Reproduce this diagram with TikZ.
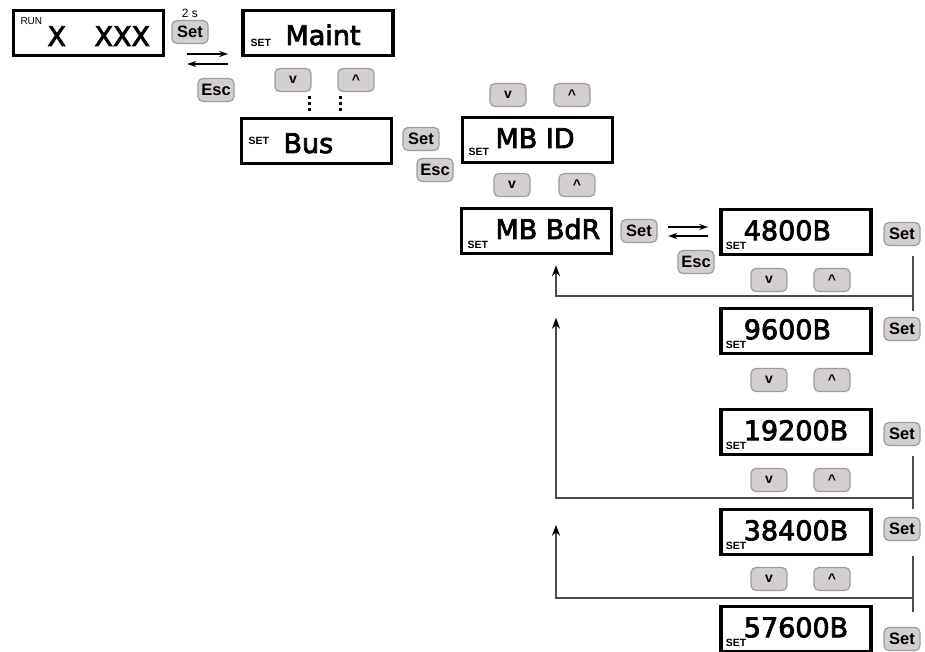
\documentclass[tikz,border=0pt]{standalone}
\usepackage{fontspec}
\setmainfont{Liberation Sans}
\newfontfamily\lcdfont[FakeBold=3]{DejaVu Sans}
\usepackage{tikz}
\usetikzlibrary{arrows.meta,positioning,calc}
\definecolor{menu@key}{RGB}{211,207,207}
\definecolor{menu@keyedge}{RGB}{160,155,155}
\definecolor{menu@line}{RGB}{75,75,75}
\tikzset{
  menu/.style={
    x=1pt, y=-1pt,
    >={Stealth[length=9pt,width=6pt]},
    line width=1pt
  },
  lcd/.style={                     % display window
    draw=black, line width=3.4pt,
    minimum width=150pt, minimum height=45pt,
    inner sep=0pt
  },
  lcdtext/.style={font=\lcdfont\fontsize{27}{27}\selectfont, inner sep=0pt, anchor=base west},
  tag/.style={font=\bfseries\fontsize{10.5}{10.5}\selectfont, inner sep=0pt, anchor=base west},
  key/.style={                     % push button
    draw=menu@keyedge, fill=menu@key, line width=1.2pt,
    rounded corners=5pt,
    minimum width=36pt, minimum height=23pt,
    inner sep=0pt,
    font=\bfseries\fontsize{16.5}{16.5}\selectfont
  },
  navkey/.style={key, font=\bfseries\fontsize{14}{14}\selectfont},
  swap/.style={->, line width=1.4pt},
  back/.style={draw=menu@line, line width=1.6pt},
  backarrow/.style={back, -{Stealth[length=11pt,width=8pt,color=black]}},
  dotcol/.style={line width=3pt, dash pattern=on 3pt off 3pt}
}
\newcommand{\upkey}{\raisebox{-0.5ex}{\textasciicircum}}

\begin{document}
\begin{tikzpicture}[menu]
\useasboundingbox (0,0) rectangle (925,652);

% Run display and entry into the menu
\node[lcd] (run) at (88.5,33) {};
\node[tag, font=\fontsize{10}{10}\selectfont] (run-tag) at (20,25) {RUN};
\node[lcdtext] (run-a) at (47,46) {X};
\node[lcdtext] (run-b) at (94,46) {XXX};
\node[key] (set0) at (190,32) {Set};
\node[font=\fontsize{12}{12}\selectfont, inner sep=0pt] (hold) at (190,13) {2 s};
\node[key] (esc0) at (216,90) {Esc};
\draw[swap] ($(run.east)+(22,21)$) -- ++(41,0);
\draw[swap] ($(run.east)+(63,31)$) -- ++(-41,0);

% Maint / Bus
\node[lcd] (maint) at (318,33) {};
\node[tag] (maint-tag) at (250,47) {SET};
\node[lcdtext] (maint-val) at (285,45) {Maint};
\node[navkey] (dn0) at (293,80) {v};
\node[navkey] (up0) at (356,80) {\upkey};
\draw[dotcol] ($(dn0.south)+(16,4)$) -- ++(0,15);
\draw[dotcol] ($(up0.south)+(-16,4)$) -- ++(0,15);

\node[lcd] (bus) at (316.5,141) {};
\node[tag] (bus-tag) at (248,145) {SET};
\node[lcdtext] (bus-val) at (283,153) {Bus};
\node[key] (set1) at (421,139) {Set};
\node[key] (esc1) at (435,170) {Esc};

% MB ID / MB BdR
\node[navkey] (dn1) at (508,95) {v};
\node[navkey] (up1) at (572,95) {\upkey};
\node[lcd] (mbid) at (537.5,140) {};
\node[tag] (mbid-tag) at (468,156) {SET};
\node[lcdtext] (mbid-val) at (495,148) {MB ID};
\node[navkey] (dn2) at (512,185) {v};
\node[navkey] (up2) at (577,185) {\upkey};

\node[lcd] (mbbdr) at (536.5,231) {};
\node[tag] (mbbdr-tag) at (467,248) {SET};
\node[lcdtext] (mbbdr-val) at (495,239) {MB BdR};
\node[key] (set2) at (639,231) {Set};
\node[key] (esc2) at (696,262) {Esc};
\draw[swap] ($(mbbdr.east)+(55,-4)$) -- ++(40,0);
\draw[swap] ($(mbbdr.east)+(95,5)$) -- ++(-40,0);

% Baud rate displays
\foreach \nm/\val/\y in {b4800/4800B/232, b9600/9600B/331, b19200/19200B/432,
                         b38400/38400B/532, b57600/57600B/629} {
  \node[lcd] (\nm) at (796,\y) {};
  \node[tag] (\nm-tag) at ($(\nm.south west)+(6,-7)$) {SET};
  \node[lcdtext] (\nm-val) at ($(\nm.south west)+(24,-16)$) {\val};
}
\foreach \nm/\y in {s4800/234, s9600/329, s19200/434, s38400/529, s57600/639} {
  \node[key] (\nm) at (902,\y) {Set};
}
\foreach \nm/\y in {n1/280, n2/380, n3/480, n4/579} {
  \node[navkey] (\nm-dn) at (769,\y) {v};
  \node[navkey] (\nm-up) at (832,\y) {\upkey};
}

% Return paths
\draw[back] ($(b4800.south east)+(40,0)$) -- ++(0,55);
\draw[backarrow] ($(b4800.south east)+(40,40)$) -| ($(mbbdr.south)+(19.5,10)$);
\draw[back] ($(b19200.south east)+(40,0)$) -- ++(0,53);
\draw[backarrow] ($(b19200.south east)+(40,42)$) -| ($(mbbdr.south |- b9600.north)+(19.5,11)$);
\draw[back] ($(b38400.south east)+(40,0)$) -- ++(0,56);
\draw[backarrow] ($(b38400.south east)+(40,42)$) -| ($(mbbdr.south |- b38400.north)+(19.5,17)$);
\end{tikzpicture}
\end{document}
